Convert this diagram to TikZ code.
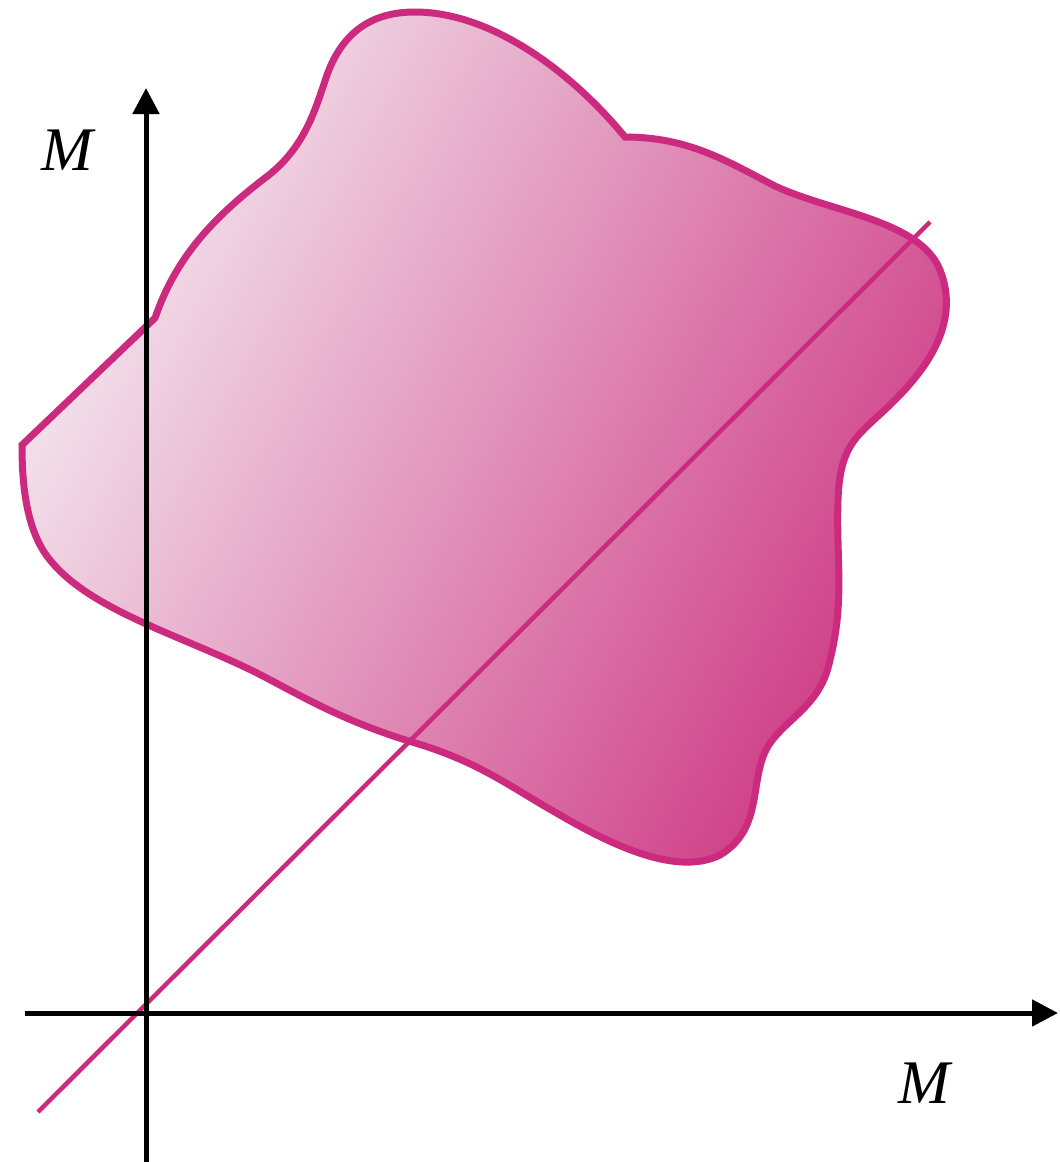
\documentclass[tikz,border=0pt]{standalone}
\usepackage{fontspec}
\setmainfont{Liberation Serif}
\usetikzlibrary{arrows.meta}
\definecolor{pinkL}{HTML}{F4E8EF}
\definecolor{pinkR}{HTML}{CE3A84}
\definecolor{pinkS}{HTML}{CC2A7E}
\tikzset{
  axis/.style={line width=5pt, black, -{Triangle[length=26pt,width=26pt]}},
  blobline/.style={line width=7pt, pinkS, line join=miter},
  diag/.style={line width=4.5pt, pinkS},
  lab/.style={font=\fontsize{62}{62}\selectfont\itshape, inner sep=0pt}
}
\def\blobpath{(22,445) -- (155,318)
  .. controls (175,260) and (210,220) .. (265,178)
  .. controls (305,148) and (315,110) .. (327,75)
  .. controls (345,25) and (380,12) .. (415,12)
  .. controls (490,12) and (570,70) .. (625,137)
  .. controls (690,137) and (730,163) .. (775,186)
  .. controls (830,212) and (920,220) .. (940,270)
  .. controls (960,320) and (930,365) .. (895,400)
  .. controls (860,435) and (840,440) .. (838,500)
  .. controls (836,560) and (845,600) .. (830,660)
  .. controls (820,710) and (780,720) .. (765,752)
  .. controls (750,785) and (762,830) .. (720,855)
  .. controls (680,875) and (620,850) .. (560,815)
  .. controls (510,787) and (480,762) .. (412,742)
  .. controls (340,720) and (300,695) .. (255,672)
  .. controls (180,635) and (90,610) .. (50,560)
  .. controls (25,530) and (22,480) .. (22,445) -- cycle}
\begin{document}
\begin{tikzpicture}[x=1pt,y=-1pt]
\useasboundingbox (0,0) rectangle (1060,1162);
% blob
\path[left color=pinkL, right color=pinkR, shading angle=62] \blobpath;
\draw[blobline] \blobpath;
% diagonal
\coordinate (d1) at (38,1112);
\coordinate (d2) at (930,222);
\draw[diag] (d1) -- (d2);
% axes
\coordinate (yb) at (146,1162);
\coordinate (yt) at (146,88);
\coordinate (xl) at (25,1013);
\coordinate (xr) at (1058,1013);
\draw[axis] (yb) -- (yt);
\draw[axis] (xl) -- (xr);
\node[lab] (my) at (67,150) {M};
\node[lab] (mx) at (924,1083) {M};
\end{tikzpicture}
\end{document}
